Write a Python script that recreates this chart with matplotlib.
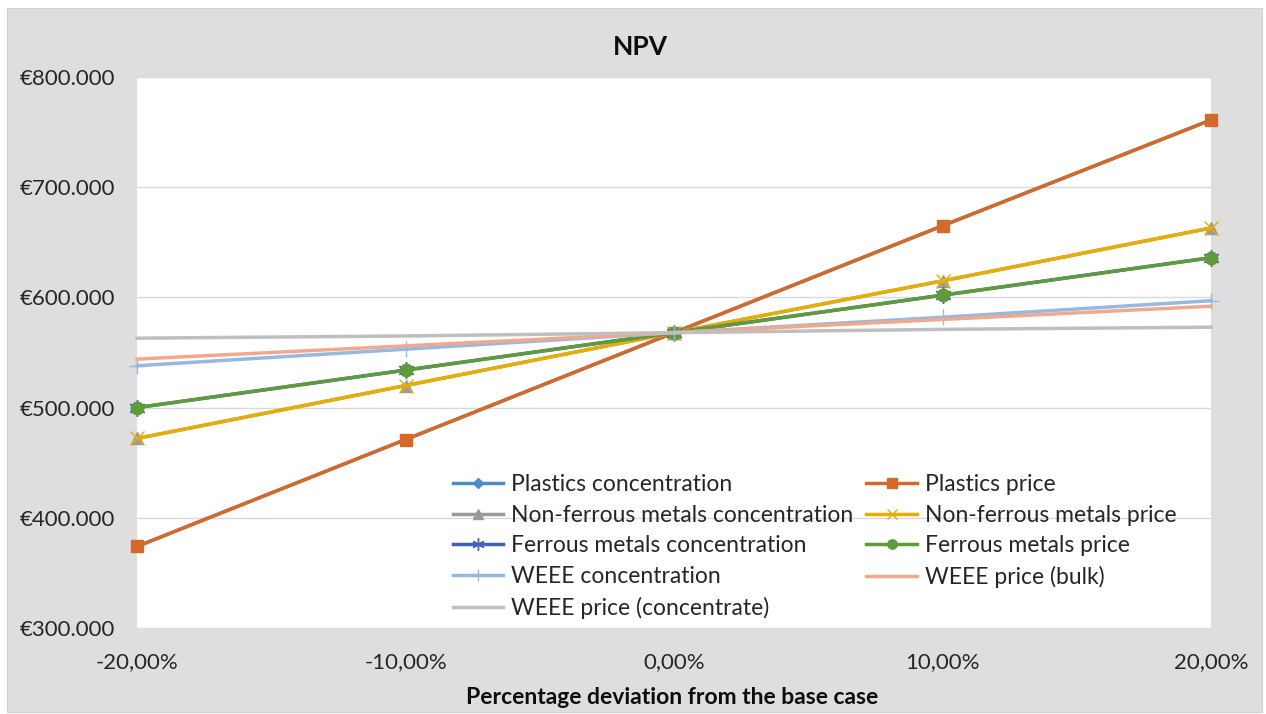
import matplotlib
matplotlib.use("Agg")
import matplotlib.pyplot as plt
from matplotlib.patches import Rectangle
from matplotlib.ticker import FuncFormatter, FixedLocator

plt.rcParams['font.family'] = ['Lato', 'DejaVu Sans']

# ---- data ----
deviation = [-20, -10, 0, 10, 20]  # percent
plastics_concentration = [374, 471, 568, 665, 761]
plastics_price = [374, 471, 568, 665, 761]
nonferrous_concentration = [472, 520, 568, 615, 663]
nonferrous_price = [472, 520, 568, 615, 663]
ferrous_concentration = [500, 534, 568, 602, 636]
ferrous_price = [500, 534, 568, 602, 636]
weee_concentration = [538, 553, 568, 582, 597]
weee_price_bulk = [544, 556, 568, 580, 592]
weee_price_concentrate = [563, 565, 568, 571, 573]  # thousands of euro

x_ticks = [-20, -10, 0, 10, 20]
y_ticks = [300, 400, 500, 600, 700, 800]

series = [
    ("Plastics concentration", plastics_concentration, "#4E8AC8", "D", 6.5),
    ("Plastics price", plastics_price, "#D5692A", "s", 9),
    ("Non-ferrous metals concentration", nonferrous_concentration, "#9A9A9A", "^", 9),
    ("Non-ferrous metals price", nonferrous_price, "#E6AE00", "x", 10),
    ("Ferrous metals concentration", ferrous_concentration, "#3F65B2", (6, 2, 0), 12),
    ("Ferrous metals price", ferrous_price, "#5E9B3B", "o", 9),
    ("WEEE concentration", weee_concentration, "#95B9E3", "+", 12),
    ("WEEE price (bulk)", weee_price_bulk, "#F2A98B", None, 0),
    ("WEEE price (concentrate)", weee_price_concentrate, "#BFBFBF", None, 0),
]

W, H = 1266, 714
fig = plt.figure(figsize=(W / 100, H / 100), dpi=100)
fig.patch.set_facecolor("white")
fig.patches.append(Rectangle((7 / W, 2 / H), 1255 / W, 704 / H, transform=fig.transFigure,
                             facecolor="#DEDEDE", edgecolor="#D0D0D0", lw=0.8, zorder=-10))

ax = fig.add_axes([137 / W, 1 - 628 / H, (1211 - 137) / W, (628 - 77) / H])
ax.set_facecolor("white")

handles = {}
for i, (label, vals, color, marker, ms) in enumerate(series):
    kw = dict(color=color, lw=2.5, label=label, clip_on=False, zorder=3 + i * 0.1)
    if marker is not None:
        kw.update(marker=marker, markersize=ms, markerfacecolor=color, markeredgecolor=color,
                  markeredgewidth=1.0)
    ln, = ax.plot(deviation, [v * 1000 for v in vals], **kw)
    handles[label] = ln

ax.set_xlim(-20, 20)
ax.set_ylim(300000, 800000)
ax.xaxis.set_major_locator(FixedLocator(x_ticks))
ax.yaxis.set_major_locator(FixedLocator([v * 1000 for v in y_ticks]))
ax.xaxis.set_major_formatter(FuncFormatter(lambda v, p: f"{v:.2f}%".replace(".", ",")))
ax.yaxis.set_major_formatter(FuncFormatter(lambda v, p: "€" + f"{int(round(v)):,}".replace(",", ".")))
ax.grid(axis="y", color="#D9D9D9", lw=1.0, zorder=0)
ax.set_axisbelow(True)
for s in ax.spines.values():
    s.set_visible(False)
ax.tick_params(axis="both", length=0, labelsize=16, colors="#262626")
ax.tick_params(axis="x", pad=17)
ax.tick_params(axis="y", pad=16)

fig.text(640 / W, 1 - 47 / H, "NPV", ha="center", va="center", fontsize=19, fontweight="bold",
         color="#0D0D0D")
fig.text(672 / W, 1 - 698 / H, "Percentage deviation from the base case", ha="center", va="center",
         fontsize=16.5, fontweight="bold", color="#0D0D0D")

order = ["Plastics concentration", "Non-ferrous metals concentration", "Ferrous metals concentration",
         "WEEE concentration", "WEEE price (concentrate)",
         "Plastics price", "Non-ferrous metals price", "Ferrous metals price", "WEEE price (bulk)"]
leg = ax.legend([handles[k] for k in order], order, ncol=2, frameon=False, loc="upper left",
                bbox_to_anchor=(453 / W, 1 - 474 / H), bbox_transform=fig.transFigure,
                fontsize=16.5, handlelength=2.2, handletextpad=0.35, columnspacing=0.55,
                labelspacing=0.42, borderpad=0, borderaxespad=0, markerscale=0.75)
for t in leg.get_texts():
    t.set_color("#262626")

fig.savefig("out.png", dpi=100, facecolor=fig.get_facecolor())
